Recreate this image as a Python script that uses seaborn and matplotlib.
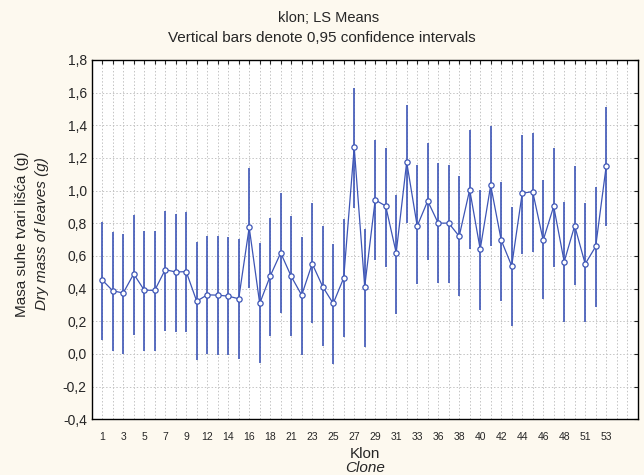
import numpy as np
import pandas as pd
import matplotlib
matplotlib.use("Agg")
import matplotlib.pyplot as plt
from matplotlib.ticker import FuncFormatter, MultipleLocator
import seaborn as sns

clones = [1, 2, 3, 4, 5, 6, 7, 8, 9, 10, 12, 13, 14, 15, 16, 17, 18, 20, 21, 22,
          23, 24, 25, 26, 27, 28, 29, 30, 31, 32, 33, 34, 36, 37, 38, 39, 40, 41,
          42, 43, 44, 45, 46, 47, 48, 50, 51, 52, 53]
means = [0.453, 0.387, 0.373, 0.490, 0.391, 0.389, 0.516, 0.502, 0.504, 0.323,
         0.362, 0.360, 0.354, 0.338, 0.775, 0.309, 0.477, 0.619, 0.475, 0.360,
         0.553, 0.412, 0.309, 0.465, 1.265, 0.412, 0.943, 0.906, 0.619, 1.175,
         0.783, 0.937, 0.801, 0.801, 0.721, 1.006, 0.641, 1.033, 0.697, 0.539,
         0.984, 0.994, 0.696, 0.904, 0.565, 0.785, 0.551, 0.658, 1.150]
upper = [0.811, 0.748, 0.734, 0.848, 0.754, 0.754, 0.877, 0.857, 0.869, 0.684,
         0.723, 0.721, 0.717, 0.703, 1.140, 0.682, 0.832, 0.986, 0.842, 0.717,
         0.922, 0.785, 0.672, 0.826, 1.630, 0.768, 1.312, 1.263, 0.976, 1.527,
         1.154, 1.293, 1.170, 1.160, 1.092, 1.373, 1.006, 1.394, 1.051, 0.898,
         1.343, 1.353, 1.068, 1.263, 0.928, 1.150, 0.922, 1.021, 1.513]
lower = [0.083, 0.016, 0.001, 0.116, 0.020, 0.016, 0.143, 0.133, 0.135, -0.040,
         -0.001, -0.005, -0.005, -0.031, 0.405, -0.056, 0.108, 0.252, 0.108, -0.005,
         0.190, 0.051, -0.062, 0.102, 0.891, 0.040, 0.576, 0.533, 0.245, 0.799,
         0.426, 0.574, 0.432, 0.432, 0.354, 0.645, 0.272, 0.662, 0.323, 0.170,
         0.611, 0.625, 0.334, 0.533, 0.196, 0.420, 0.194, 0.286, 0.781]

df = pd.DataFrame({"klon": clones, "mean": means, "lo": lower, "hi": upper})
df["pos"] = np.arange(len(df))

sns.set_style("white")
plt.rcParams["font.family"] = ["Liberation Sans", "DejaVu Sans"]

blue = "#3d55b6"
fig = plt.figure(figsize=(6.44, 4.75), dpi=100, facecolor="#fdf9ef")
ax = fig.add_axes([0.1424, 0.1173, 0.8478, 0.7564])
ax.set_facecolor("white")

# confidence interval bars
ax.vlines(df["pos"], df["lo"], df["hi"], color=blue, linewidth=1.2, zorder=2)
sns.lineplot(data=df, x="pos", y="mean", color=blue, linewidth=0.9,
             marker="o", markersize=3.8, markerfacecolor="white",
             markeredgecolor=blue, markeredgewidth=0.9, ax=ax, zorder=3)

ax.set_xlim(-1, 51)
ax.set_ylim(-0.4, 1.8)
ax.yaxis.set_major_locator(MultipleLocator(0.2))
ax.yaxis.set_major_formatter(FuncFormatter(lambda v, p: f"{v:.1f}".replace(".", ",").replace("-0,0", "0,0")))

ax.set_xticks(np.arange(0, 51))
ax.set_xticklabels([str(c) if i % 2 == 0 else "" for i, c in enumerate(clones)] + ["", ""])
ax.tick_params(axis="x", direction="in", length=3, width=0.8, top=True, labelsize=7.5, pad=9)
ax.tick_params(axis="y", direction="in", length=3, width=0.8, right=True, labelsize=10)

ax.grid(True, color="#c4c4c4", linestyle=(0, (1.5, 2)), linewidth=0.7)
for s in ax.spines.values():
    s.set_color("black")
    s.set_linewidth(1.0)

ax.set_xlabel("")
ax.set_ylabel("")

fig.text(329 / 644, 1 - 18 / 475, "klon; LS Means", ha="center", va="center", fontsize=10.5)
fig.text(322 / 644, 1 - 38 / 475, "Vertical bars denote 0,95 confidence intervals",
         ha="center", va="center", fontsize=11)
fig.text(365 / 644, 1 - 454 / 475, "Klon", ha="center", va="center", fontsize=11)
fig.text(365 / 644, 1 - 468 / 475, "Clone", ha="center", va="center", fontsize=11, style="italic")
fig.text(22 / 644, 1 - 234 / 475, "Masa suhe tvari lišća (g)", rotation=90,
         ha="center", va="center", fontsize=11)
fig.text(42 / 644, 1 - 234 / 475, "Dry mass of leaves (g)", rotation=90,
         ha="center", va="center", fontsize=11, style="italic")

fig.savefig("out.png", dpi=100, facecolor=fig.get_facecolor())
